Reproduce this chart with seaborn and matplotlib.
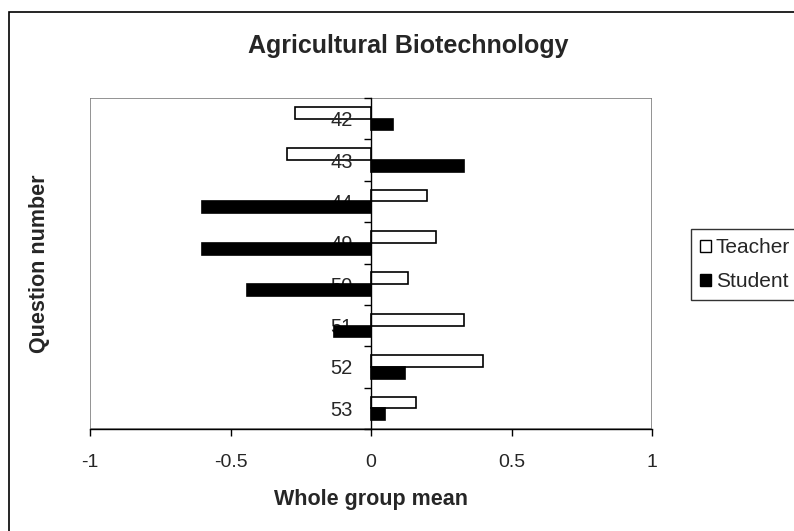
import numpy as np
import pandas as pd
import seaborn as sns
import matplotlib
matplotlib.use('Agg')
import matplotlib.pyplot as plt
from matplotlib.patches import Rectangle, Patch

# values
questions = ['42', '43', '44', '49', '50', '51', '52', '53']
teacher = [-0.27, -0.30, 0.20, 0.23, 0.13, 0.33, 0.40, 0.16]
student = [0.08, 0.33, -0.60, -0.60, -0.44, -0.13, 0.12, 0.05]
groups = ['Teacher', 'Student']

df = pd.DataFrame({
    'Question': questions * 2,
    'Mean': teacher + student,
    'Group': ['Teacher'] * len(questions) + ['Student'] * len(questions),
})

sns.set_style('white')
plt.rcParams['font.family'] = ['Liberation Sans', 'DejaVu Sans']

fig = plt.figure(figsize=(7.94, 5.31), dpi=100)
ax = fig.add_axes([90 / 794, 1 - 429 / 531, 562 / 794, 331 / 531])

sns.barplot(data=df, x='Mean', y='Question', hue='Group', order=questions,
            hue_order=groups, palette={'Teacher': 'white', 'Student': 'black'},
            orient='h', width=0.565, edgecolor='black', linewidth=1.2,
            legend=False, ax=ax)

# labels go over the white bars, black bars go over the labels
ax.set_axisbelow(False)
for bar in ax.containers[0]:
    bar.set_zorder(2)
for bar in ax.containers[1]:
    bar.set_zorder(3)

ax.set_xlim(-1, 1)
ax.set_ylim(7.5, -0.5)
ax.set_xticks([-1, -0.5, 0, 0.5, 1])
ax.set_xticklabels(['-1', '-0.5', '0', '0.5', '1'])
ax.set_yticks(range(len(questions)))
ax.set_yticklabels(questions)
ax.set_yticks(np.arange(-0.5, len(questions), 1), minor=True)

ax.spines['left'].set_position(('data', 0))
ax.spines['left'].set_color('black')
ax.spines['left'].set_linewidth(1)
ax.spines['bottom'].set_color('black')
ax.spines['bottom'].set_linewidth(1)
ax.spines['top'].set_visible(False)
ax.spines['right'].set_visible(False)
ax.add_patch(Rectangle((0, 0), 1, 1, transform=ax.transAxes, fill=False,
                       edgecolor='#808080', linewidth=1.2, zorder=0.5))

ax.tick_params(axis='x', direction='out', length=5, width=1, color='black',
               labelsize=14, pad=13, bottom=True)
ax.tick_params(axis='y', which='major', length=0, labelsize=14.5, pad=13)
ax.tick_params(axis='y', which='minor', direction='out', length=5, width=1,
               color='black', left=True)

ax.set_xlabel('Whole group mean', fontsize=15.5, fontweight='bold', va='center')
ax.xaxis.set_label_coords(0.5, (429 - 500) / 331)
ax.set_ylabel('Question number', fontsize=15.5, fontweight='bold', va='center')
ax.yaxis.set_label_coords((40 - 90) / 562, 0.5)

fig.text(408 / 794, 1 - 46 / 531, 'Agricultural Biotechnology',
         ha='center', va='center', fontsize=18, fontweight='bold')

handles = [Patch(facecolor='white', edgecolor='black', linewidth=1),
           Patch(facecolor='black', edgecolor='black', linewidth=1)]
leg = fig.legend(handles, groups, loc='upper left',
                 bbox_to_anchor=(691 / 794, 1 - 229 / 531), fontsize=15,
                 frameon=True, fancybox=False, edgecolor='black',
                 handlelength=0.5, handleheight=0.5, handletextpad=0.25,
                 borderpad=0.45, labelspacing=0.7, borderaxespad=0)
leg.get_frame().set_linewidth(1)

# chart area border (runs off the right and bottom edges)
fig.add_artist(Rectangle((9 / 794, -0.1), 1.2, 1 - 12 / 531 + 0.1,
                         transform=fig.transFigure, fill=False,
                         edgecolor='black', linewidth=1.2))

fig.savefig('out.png', dpi=100)
